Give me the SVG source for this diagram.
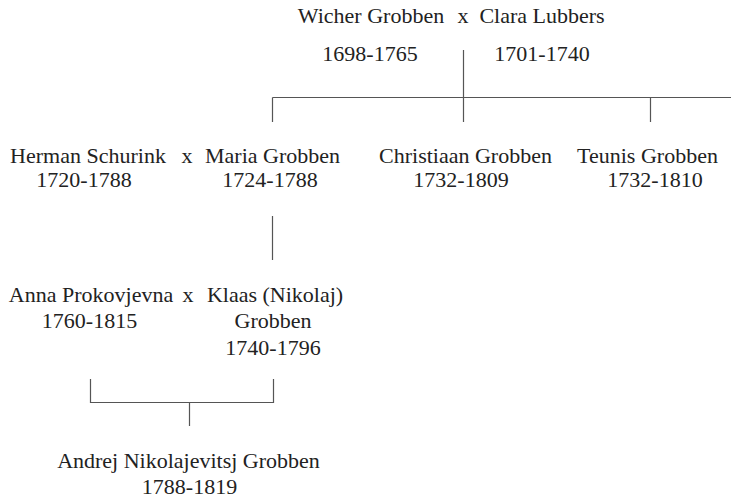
<svg xmlns="http://www.w3.org/2000/svg" width="731" height="504" viewBox="0 0 731 504">
<style>
text{font-family:"Liberation Serif","Times New Roman",serif;font-size:22px;fill:#222;text-anchor:middle}
.ln{stroke:#555;stroke-width:1.2;fill:none}
</style>
<rect width="731" height="504" fill="#fff"/>
<g id="connectors">
<path class="ln" d="M463.5 50V122M272.5 97.5H731M272.5 97.5V122M650.5 97.5V122"/>
<path class="ln" d="M272.5 216V260"/>
<path class="ln" d="M90.5 379V402.5H273.5V379M189.5 402.5V426"/>
</g>
<g id="wicher"><text x="371" y="23">Wicher Grobben</text><text x="370" y="61">1698-1765</text></g>
<g id="x1"><text x="463" y="23">x</text></g>
<g id="clara"><text x="542" y="23">Clara Lubbers</text><text x="542" y="61">1701-1740</text></g>
<g id="herman"><text x="88" y="163">Herman Schurink</text><text x="84" y="187">1720-1788</text></g>
<g id="x2"><text x="187" y="163">x</text></g>
<g id="maria"><text x="272.5" y="163">Maria Grobben</text><text x="270" y="187">1724-1788</text></g>
<g id="christiaan"><text x="465.5" y="163">Christiaan Grobben</text><text x="461" y="187">1732-1809</text></g>
<g id="teunis"><text x="647.5" y="163">Teunis Grobben</text><text x="655" y="187">1732-1810</text></g>
<g id="anna"><text x="91" y="302">Anna Prokovjevna</text><text x="89.5" y="328">1760-1815</text></g>
<g id="x3"><text x="188" y="302">x</text></g>
<g id="klaas"><text x="275" y="302">Klaas (Nikolaj)</text><text x="273" y="328">Grobben</text><text x="273" y="355">1740-1796</text></g>
<g id="andrej"><text x="188.5" y="468">Andrej Nikolajevitsj Grobben</text><text x="189.5" y="494">1788-1819</text></g>
</svg>
